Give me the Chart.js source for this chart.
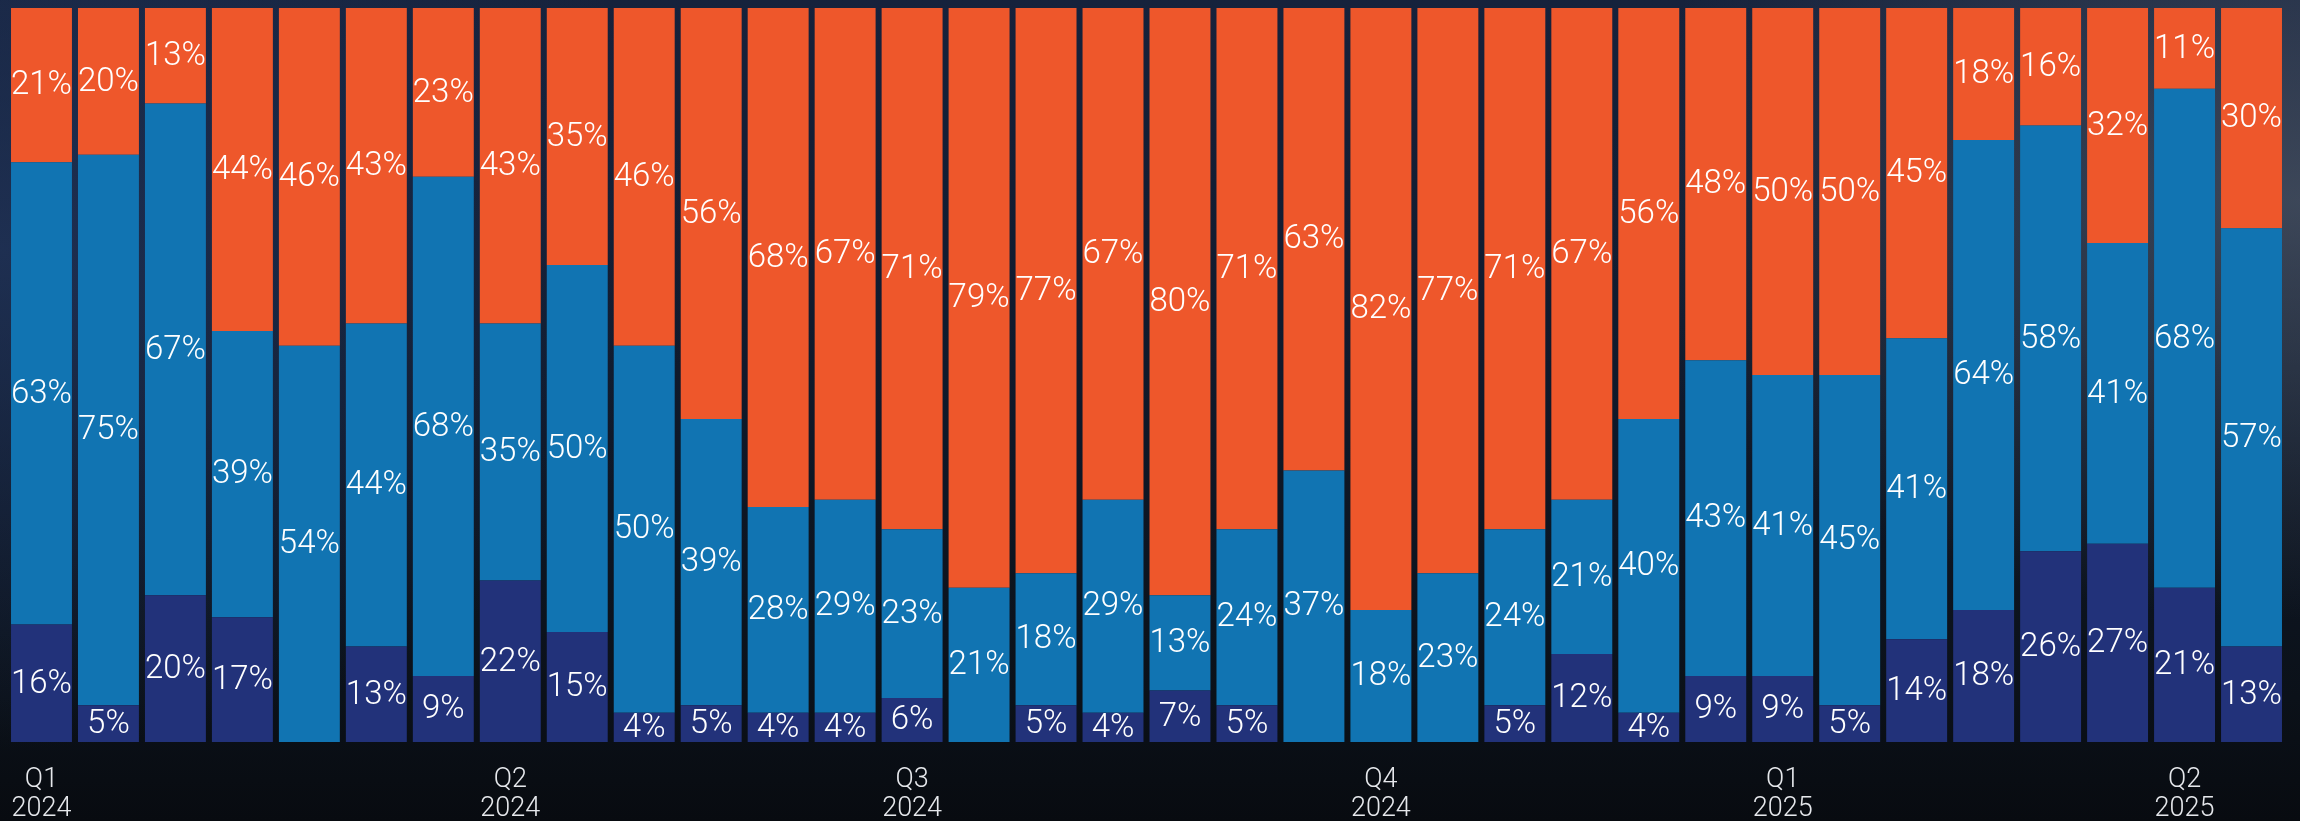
<!DOCTYPE html>
<html>
<head>
<meta charset="utf-8">
<script src="https://cdn.jsdelivr.net/npm/chart.js@4.4.1/dist/chart.umd.min.js"></script>
<style>
    html, body { margin: 0; padding: 0; }
    body {
        width: 2300px; height: 821px; overflow: hidden;
        background:
            radial-gradient(ellipse 700px 420px at 2300px 200px, rgba(95,105,120,0.55), rgba(0,0,0,0)),
            radial-gradient(ellipse 700px 500px at 0px 250px, rgba(35,55,95,0.7), rgba(0,0,0,0)),
            linear-gradient(180deg, #16223c 0%, #101a2c 45%, #0b1119 85%, #080b10 100%);
    }
    .wrap { position: relative; width: 2300px; height: 821px; }
    canvas { display: block; }
</style>
</head>
<body>
<div class="wrap"><canvas id="mixChart" width="2300" height="821"></canvas></div>
<script>
// dados (percentuais por semana)
const categories = [
    'w01','w02','w03','w04','w05','w06','w07','w08','w09','w10','w11','w12',
    'w13','w14','w15','w16','w17','w18','w19','w20','w21','w22','w23','w24',
    'w25','w26','w27','w28','w29','w30','w31','w32','w33','w34'
];
const tickLabels = {
    0: ['Q1', '2024'], 7: ['Q2', '2024'], 13: ['Q3', '2024'],
    20: ['Q4', '2024'], 26: ['Q1', '2025'], 32: ['Q2', '2025']
};
const segLow  = [16, 5, 20, 17, 0, 13, 9, 22, 15, 4, 5, 4, 4, 6, 0, 5, 4, 7, 5, 0, 0, 0, 5, 12, 4, 9, 9, 5, 14, 18, 26, 27, 21, 13];
const segMid  = [63, 75, 67, 39, 54, 44, 68, 35, 50, 50, 39, 28, 29, 23, 21, 18, 29, 13, 24, 37, 18, 23, 24, 21, 40, 43, 41, 45, 41, 64, 58, 41, 68, 57];
const segHigh = [21, 20, 13, 44, 46, 43, 23, 43, 35, 46, 56, 68, 67, 71, 79, 77, 67, 80, 71, 63, 82, 77, 71, 67, 56, 48, 50, 50, 45, 18, 16, 32, 11, 30];

const LABEL_FONT = '300 33px Roboto, "Liberation Sans", sans-serif';

// rótulos dentro de cada segmento
const segmentLabels = {
    id: 'segmentLabels',
    afterDatasetsDraw(chart) {
        const ctx = chart.ctx;
        ctx.save();
        ctx.font = LABEL_FONT;
        ctx.fillStyle = '#ffffff';
        ctx.textAlign = 'center';
        ctx.textBaseline = 'middle';
        chart.data.datasets.forEach((ds, i) => {
            const meta = chart.getDatasetMeta(i);
            meta.data.forEach((bar, j) => {
                const v = ds.data[j];
                if (!v) return;
                const { x, y, base } = bar.getProps(['x', 'y', 'base'], true);
                ctx.fillText(v + '%', x, (y + base) / 2 + 1);
            });
        });
        ctx.restore();
    }
};

const ctx = document.getElementById('mixChart').getContext('2d');
new Chart(ctx, {
    type: 'bar',
    data: {
        labels: categories,
        datasets: [
            { label: 'low',  data: segLow,  backgroundColor: '#22327a', borderWidth: 0 },
            { label: 'mid',  data: segMid,  backgroundColor: '#1174b2', borderWidth: 0 },
            { label: 'high', data: segHigh, backgroundColor: '#ee572b', borderWidth: 0 }
        ]
    },
    options: {
        responsive: false,
        animation: false,
        devicePixelRatio: 1,
        layout: { padding: { left: 8, right: 15, top: 8, bottom: 0 } },
        datasets: { bar: { categoryPercentage: 1, barPercentage: 0.91 } },
        plugins: { legend: { display: false }, tooltip: { enabled: false } },
        scales: {
            x: {
                stacked: true,
                grid: { display: false, drawTicks: false },
                border: { display: false },
                afterFit: (scale) => {
                    scale.height = 79;
                    scale.paddingLeft = 0;
                    scale.paddingRight = 0;
                },
                ticks: {
                    autoSkip: false,
                    maxRotation: 0,
                    padding: 23,
                    color: '#e6e8ec',
                    font: { family: 'Roboto, "Liberation Sans", sans-serif', size: 27, weight: 300, lineHeight: 1.1 },
                    callback: (val, idx) => tickLabels[idx] || ''
                }
            },
            y: {
                stacked: true,
                display: false,
                min: 0,
                max: 100
            }
        }
    },
    plugins: [segmentLabels]
});
</script>
</body>
</html>
